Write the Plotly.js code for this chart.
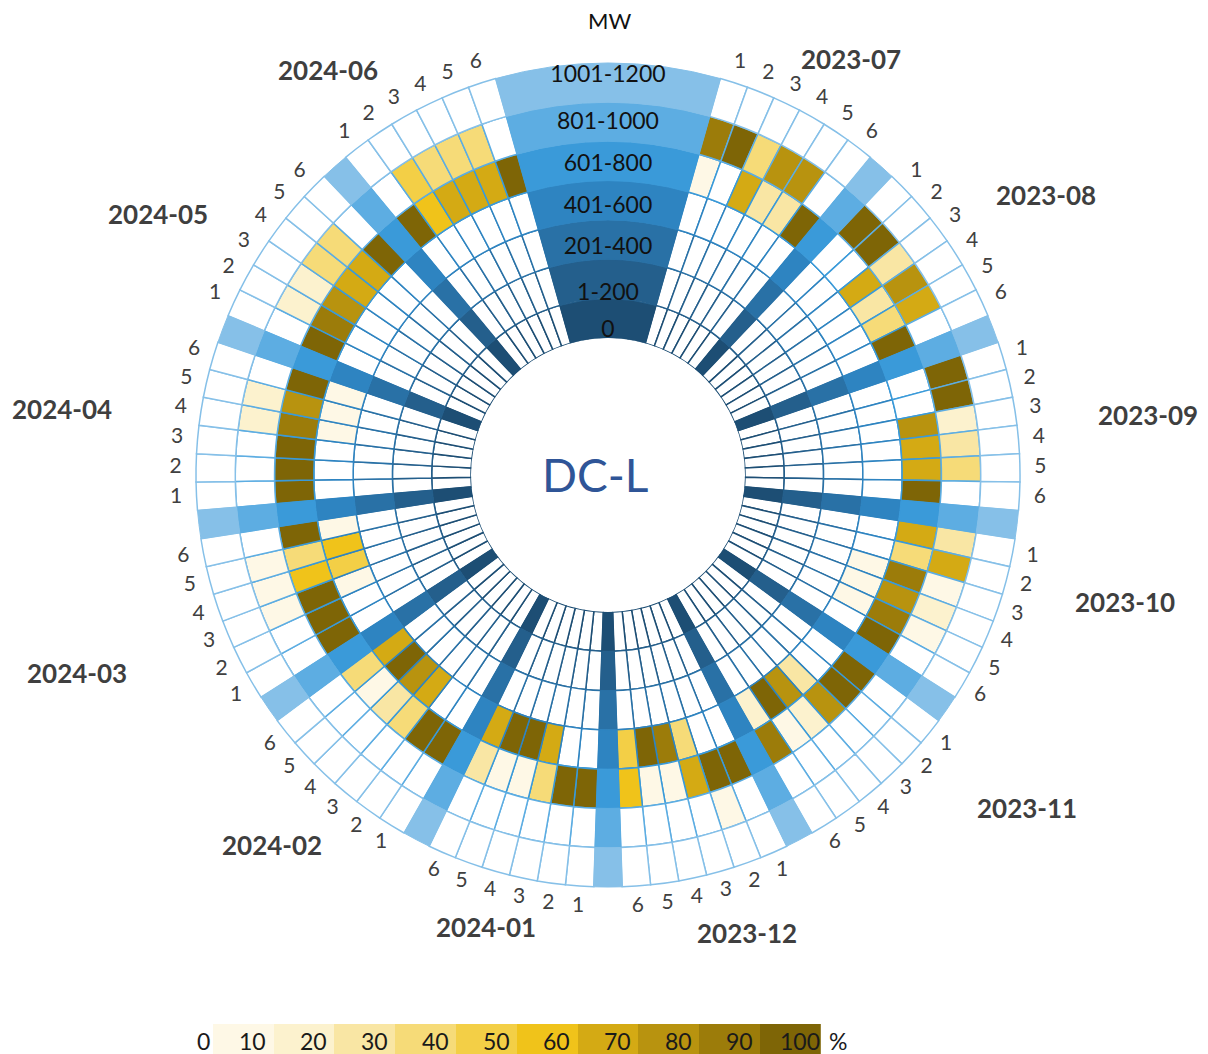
<!DOCTYPE html>
<html>
<head>
<meta charset="utf-8">
<script src="https://cdn.plot.ly/plotly-3.0.1.min.js"></script>
<style>
html,body{margin:0;padding:0;background:#ffffff;}
#chart{width:1208px;height:1054px;}
</style>
</head>
<body>
<div id="chart"></div>
<script>
// ---------------- DATA ----------------
const months = ['2023-07','2023-08','2023-09','2023-10','2023-11','2023-12',
                '2024-01','2024-02','2024-03','2024-04','2024-05','2024-06'];
const periods = ['1','2','3','4','5','6'];
const ringLabels = ['0','1-200','201-400','401-600','601-800','801-1000','1001-1200'];

// share (%) per month x period (6 per month), one array per MW ring
const ring0 = [0,0,0,0,0,0, 0,0,0,0,0,0, 0,0,0,0,0,0, 0,0,0,0,0,0, 0,0,0,0,0,0, 0,0,0,0,0,0,
               0,0,0,0,0,0, 0,0,0,0,0,0, 0,0,0,0,0,0, 0,0,0,0,0,0, 0,0,0,0,0,0, 0,0,0,0,0,0];
const ring1 = [0,0,0,0,0,0, 0,0,0,0,0,0, 0,0,0,0,0,0, 0,0,0,0,0,0, 0,0,0,0,0,0, 0,0,0,0,0,0,
               0,0,0,0,0,0, 0,0,0,0,0,0, 0,0,0,0,0,0, 0,0,0,0,0,0, 0,0,0,0,0,0, 0,0,0,0,0,0];
const ring2 = [0,0,0,0,0,0, 0,0,0,0,0,0, 0,0,0,0,0,0, 0,0,0,0,0,0, 0,0,0,0,0,0, 0,0,0,0,0,0,
               0,0,0,0,0,0, 0,0,0,0,0,0, 0,0,0,0,0,0, 0,0,0,0,0,0, 0,0,0,0,0,0, 0,0,0,0,0,0];
const ring3 = [0,0,0,0,0,0,        // 2023-07
               0,0,0,0,0,0,        // 2023-08
               0,0,0,0,0,0,        // 2023-09
               0,0,10,10,10,0,     // 2023-10
               0,0,30,80,100,20,   // 2023-11
               0,0,40,90,100,50,   // 2023-12
               0,0,70,100,100,70,  // 2024-01
               0,0,70,80,100,70,   // 2024-02
               0,0,10,50,60,10,    // 2024-03
               0,0,0,10,10,10,     // 2024-04
               0,0,0,0,0,0,        // 2024-05
               0,0,0,0,0,0];       // 2024-06
const ring4 = [10,0,70,30,30,100,
               0,0,70,30,40,100,
               0,0,80,70,70,100,
               70,40,90,80,90,100,
               100,100,80,20,10,90,
               100,100,70,10,10,60,
               100,100,40,10,10,30,
               100,100,40,30,10,40,
               100,100,100,60,40,100,
               100,100,100,90,80,100,
               100,90,80,70,70,100,
               100,60,70,70,70,100];
const ring5 = [90,100,40,80,80,0,
               100,100,30,80,70,0,
               100,100,20,30,40,0,
               30,70,10,20,10,0,
               0,0,0,0,0,0,
               0,10,0,0,0,0,
               0,0,0,0,0,0,
               0,0,0,0,0,0,
               0,0,10,10,10,0,
               0,0,0,20,20,0,
               0,20,20,40,40,0,
               0,50,40,40,40,0];
const ring6 = [0,0,0,0,0,0, 0,0,0,0,0,0, 0,0,0,0,0,0, 0,0,0,0,0,0, 0,0,0,0,0,0, 0,0,0,0,0,0,
               0,0,0,0,0,0, 0,0,0,0,0,0, 0,0,0,0,0,0, 0,0,0,0,0,0, 0,0,0,0,0,0, 0,0,0,0,0,0];

const legendValues = [10,20,30,40,50,60,70,80,90,100];
const legendLabels = ['0','10','20','30','40','50','60','70','80','90','100'];

// ---------------- STYLE ----------------
const binColors = ['#FEF8E6','#FCF2CE','#F9E6A4','#F6DB78','#F3CF46',
                   '#F0C31A','#D4AA14','#B8930F','#9C7C0A','#7E6506'];
const ringColors = ['#1D4E74','#245F8C','#2971A6','#2E84C1','#3A9AD9','#5DADE2','#86C0E8'];
const FONT = 'Lato, "Open Sans", "DejaVu Sans", sans-serif';
const W = 360 / 91;           // angular width of one column
const rings = [ring0, ring1, ring2, ring3, ring4, ring5, ring6];

function colorOf(v){ return v <= 0 ? '#FFFFFF' : binColors[Math.min(9, Math.ceil(v/10) - 1)]; }

// column / separator angles
const colTheta = [], colText = [];
for (let m = 0; m < months.length; m++) {
  for (let c = 0; c < periods.length; c++) {
    colTheta.push((4 + 7*m + c + 0.5) * W);
    colText.push(periods[c]);
  }
}
const sepTheta = [0], sepWidth = [8*W];
for (let m = 0; m < months.length - 1; m++) { sepTheta.push((4 + 7*m + 6.5) * W); sepWidth.push(W); }

const traces = [];
rings.forEach((vals, k) => {
  traces.push({
    type: 'barpolar', theta: colTheta, r: vals.map(() => 1), base: vals.map(() => k),
    width: vals.map(() => W),
    marker: {color: vals.map(colorOf), line: {color: ringColors[k], width: 1.5}},
    hoverinfo: 'skip', showlegend: false
  });
});
rings.forEach((vals, k) => {
  traces.push({
    type: 'barpolar', theta: sepTheta, r: sepTheta.map(() => 1), base: sepTheta.map(() => k),
    width: sepWidth,
    marker: {color: ringColors[k], line: {color: ringColors[k], width: 1}},
    hoverinfo: 'skip', showlegend: false
  });
});
// period numbers around the ring
traces.push({
  type: 'scatterpolar', mode: 'text', theta: colTheta, r: colTheta.map(() => 7.52),
  text: colText, textfont: {family: FONT, size: 21, color: '#404040'},
  cliponaxis: false, hoverinfo: 'skip', showlegend: false
});
// ring labels in the top wedge
const ringLabelR = [0.18, 1.12, 2.29, 3.33, 4.4, 5.47, 6.66];
traces.push({
  type: 'scatterpolar', mode: 'text', theta: ringLabels.map(() => 0), r: ringLabelR,
  text: ringLabels, textfont: {family: FONT, size: 23, color: '#111111'},
  cliponaxis: false, hoverinfo: 'skip', showlegend: false
});
// colour legend
traces.push({
  type: 'bar', x: legendValues.map((v, i) => i + 1), y: legendValues.map(() => 1),
  width: legendValues.map(() => 1),
  marker: {color: legendValues.map(colorOf), line: {width: 0}},
  xaxis: 'x', yaxis: 'y', hoverinfo: 'skip', showlegend: false
});

// ---------------- LAYOUT ----------------
const PW = 1208, PH = 1054;
const px = x => x / PW, py = y => 1 - y / PH;
const monthPos = [[851,59],[1046,195],[1148,415],[1125,602],[1027,808],[747,933],
                  [486,927],[272,845],[77,673],[62,409],[158,214],[328,70]];
const annotations = months.map((m, i) => ({
  text: '<b>' + m + '</b>', x: px(monthPos[i][0]), y: py(monthPos[i][1]),
  xref: 'paper', yref: 'paper', showarrow: false, xanchor: 'center', yanchor: 'middle',
  font: {family: FONT, size: 26, color: '#3F3F3F'}
}));
annotations.push({text: 'MW', x: px(609), y: py(21), xref: 'paper', yref: 'paper', showarrow: false,
  xanchor: 'center', yanchor: 'middle', font: {family: FONT, size: 22, color: '#111111'}});
annotations.push({text: 'DC-L', x: px(595), y: py(474), xref: 'paper', yref: 'paper', showarrow: false,
  xanchor: 'center', yanchor: 'middle', font: {family: FONT, size: 46, color: '#2F5597'}});
legendLabels.forEach((t, i) => {
  if (i === 0) {
    annotations.push({text: t, x: px(203), y: py(1041), xref: 'paper', yref: 'paper',
      showarrow: false, xanchor: 'center', yanchor: 'middle',
      font: {family: FONT, size: 23, color: '#1A1A1A'}});
  } else {
    annotations.push({text: t, x: i + 0.16, y: py(1041), xref: 'x', yref: 'paper',
      showarrow: false, xanchor: 'center', yanchor: 'middle',
      font: {family: FONT, size: 23, color: '#1A1A1A'}});
  }
});
annotations.push({text: '%', x: px(838), y: py(1041), xref: 'paper', yref: 'paper', showarrow: false,
  xanchor: 'center', yanchor: 'middle', font: {family: FONT, size: 23, color: '#1A1A1A'}});

const D = 463.1, CX = 608, CY = 475;
const layout = {
  width: PW, height: PH, margin: {l: 0, r: 0, t: 0, b: 0},
  paper_bgcolor: '#ffffff', plot_bgcolor: 'rgba(0,0,0,0)', showlegend: false,
  polar: {
    domain: {x: [(CX - D)/PW, (CX + D)/PW], y: [1 - (CY + D)/PH, 1 - (CY - D)/PH]},
    hole: 137 / D, bgcolor: 'rgba(0,0,0,0)', barmode: 'overlay', bargap: 0,
    radialaxis: {visible: false, range: [0, 8.3]},
    angularaxis: {visible: false, rotation: 90, direction: 'clockwise'}
  },
  xaxis: {domain: [212.7/PW, 820.8/PW], range: [0.5, 10.5], visible: false, fixedrange: true},
  yaxis: {domain: [0, 30/PH], range: [0, 1], visible: false, fixedrange: true},
  bargap: 0,
  annotations: annotations
};

Plotly.newPlot('chart', traces, layout, {staticPlot: true, displayModeBar: false});
</script>
</body>
</html>
